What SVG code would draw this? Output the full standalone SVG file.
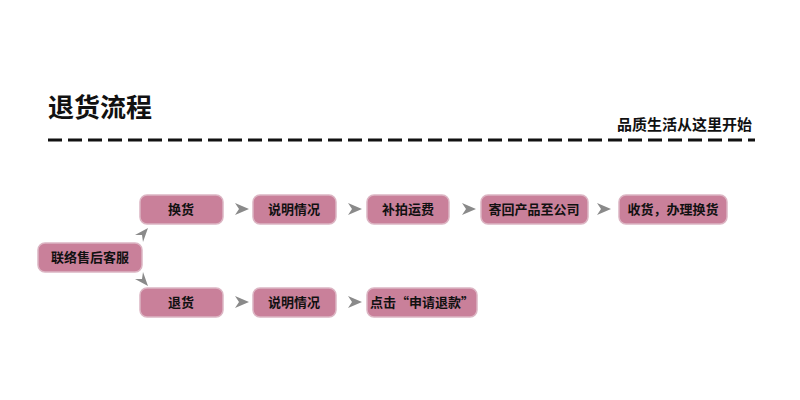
<svg xmlns="http://www.w3.org/2000/svg" width="800" height="400" viewBox="0 0 800 400">
<style>
.b{fill:#c9809a;stroke:#dcb5c3;stroke-width:1.5}
.t{font-family:"Noto Sans CJK SC",sans-serif;font-weight:bold;font-size:13px;fill:#111;text-anchor:middle}
.a{fill:#8a8a8a}
</style>
<rect width="800" height="400" fill="#fff"/>
<text x="48" y="117" font-family="Noto Sans CJK SC,sans-serif" font-weight="bold" font-size="26" fill="#111">退货流程</text>
<text x="752" y="130" font-family="Noto Sans CJK SC,sans-serif" font-weight="bold" font-size="15" fill="#111" text-anchor="end">品质生活从这里开始</text>
<line x1="48" y1="140" x2="755" y2="140" stroke="#111" stroke-width="3" stroke-dasharray="14,6"/>
<g id="connectors">
<polygon class="a" points="235,203 249,209 235,215 239,209"/>
<polygon class="a" points="348,203 362,209 348,215 352,209"/>
<polygon class="a" points="462,203 476,209 462,215 466,209"/>
<polygon class="a" points="597,203 611,209 597,215 601,209"/>
<polygon class="a" points="235,296 249,302 235,308 239,302"/>
<polygon class="a" points="348,296 362,302 348,308 352,302"/>
<polygon class="a" points="135,235 148,228 143,242 142,235"/>
<polygon class="a" points="135,279 148,286 143,272 142,279"/>
</g>
<g id="n1"><rect class="b" x="38" y="243" width="104" height="29" rx="7"/><text class="t" x="90" y="262">联络售后客服</text></g>
<g id="n2"><rect class="b" x="140" y="195" width="83" height="29" rx="7"/><text class="t" x="181" y="214">换货</text></g>
<g id="n3"><rect class="b" x="253" y="195" width="83" height="29" rx="7"/><text class="t" x="294" y="214">说明情况</text></g>
<g id="n4"><rect class="b" x="367" y="195" width="82" height="29" rx="7"/><text class="t" x="408" y="214">补拍运费</text></g>
<g id="n5"><rect class="b" x="481" y="195" width="107" height="29" rx="7"/><text class="t" x="534" y="214">寄回产品至公司</text></g>
<g id="n6"><rect class="b" x="619" y="195" width="108" height="29" rx="7"/><text class="t" x="673" y="214">收货，办理换货</text></g>
<g id="n7"><rect class="b" x="140" y="288" width="83" height="29" rx="7"/><text class="t" x="181" y="307">退货</text></g>
<g id="n8"><rect class="b" x="253" y="288" width="83" height="29" rx="7"/><text class="t" x="294" y="307">说明情况</text></g>
<g id="n9"><rect class="b" x="367" y="288" width="110" height="29" rx="7"/><text class="t" x="422" y="307">点击“申请退款”</text></g>
</svg>
